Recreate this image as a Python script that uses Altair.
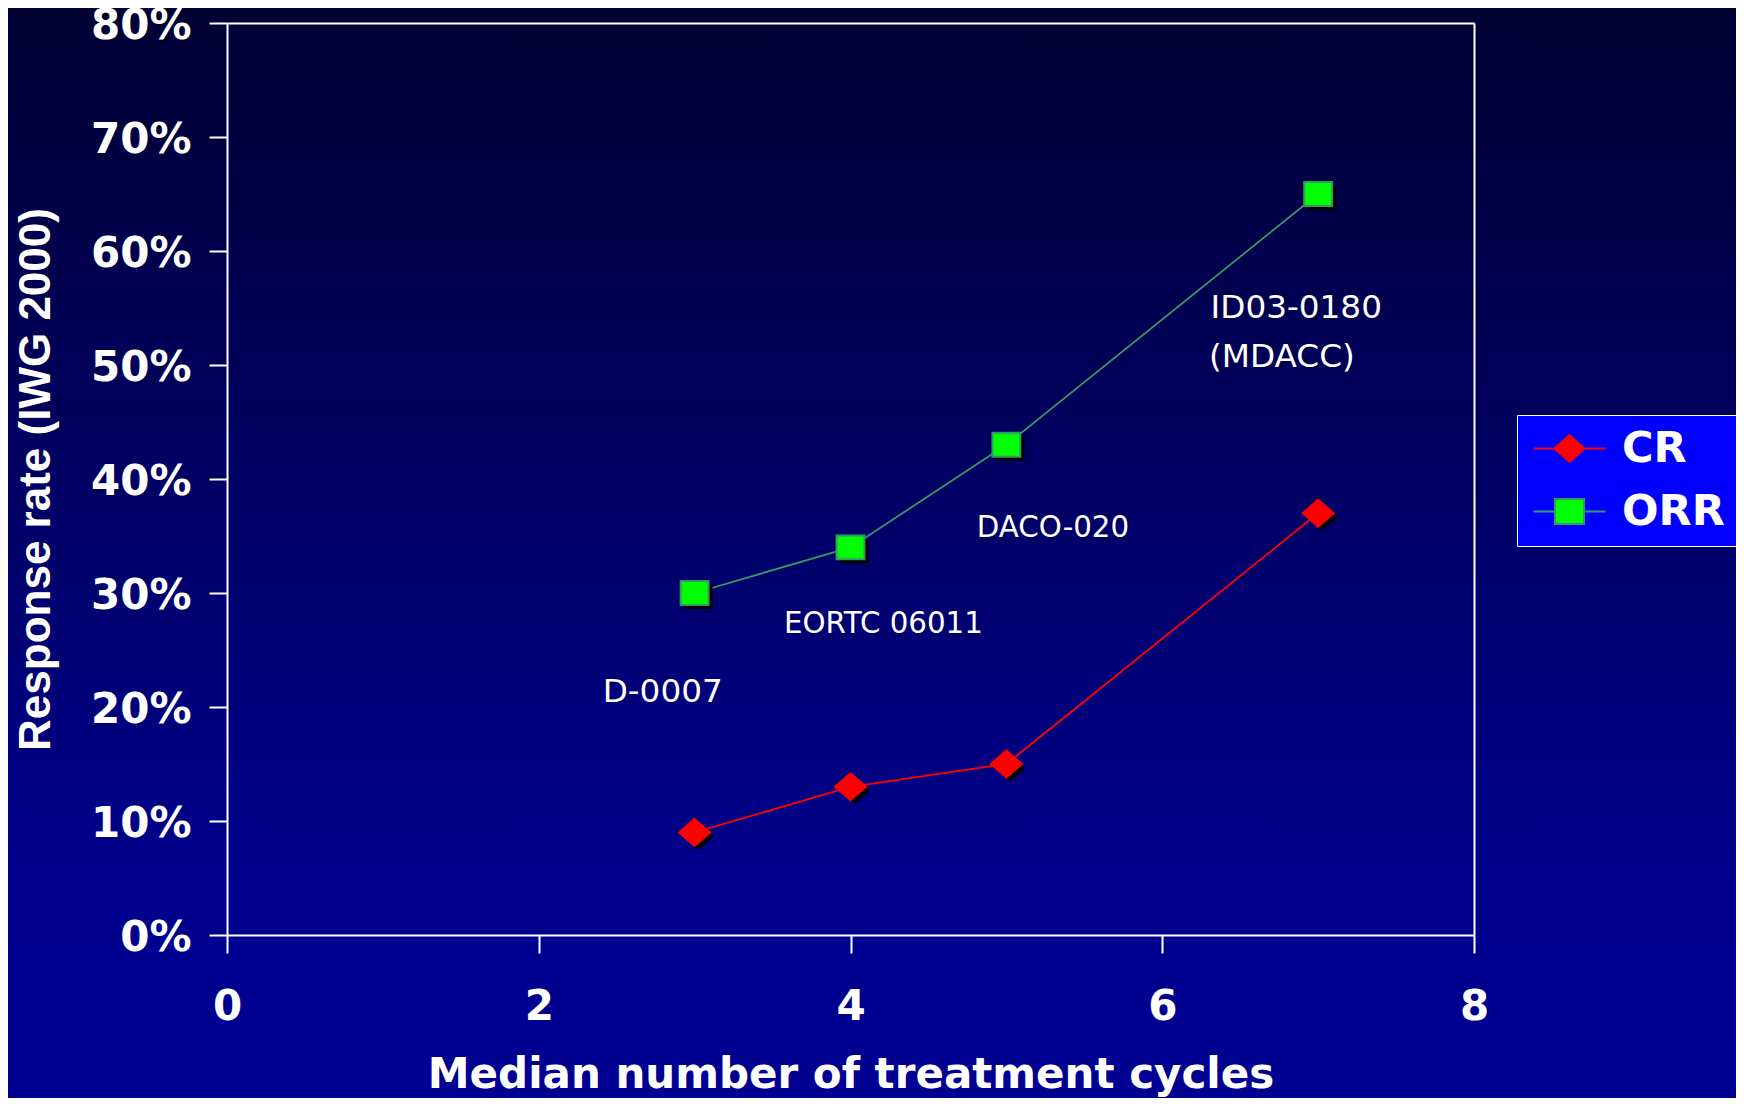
import altair as alt
import pandas as pd

# ---------------- data ----------------
cycles = [3, 4, 5, 7]
cr_rate = [0.09, 0.13, 0.15, 0.37]
orr_rate = [0.30, 0.34, 0.43, 0.65]
series_names = ["CR", "ORR"]

big_labels = ["D-0007", "ID03-0180", "(MDACC)"]
big_x = [2.41, 6.31, 6.30]
big_y = [0.213, 0.550, 0.507]
small_labels = ["EORTC 06011", "DACO-020"]
small_x = [3.573, 4.81]
small_y = [0.273, 0.357]

x_ticks = [0, 2, 4, 6, 8]
y_ticks = [0.0, 0.1, 0.2, 0.3, 0.4, 0.5, 0.6, 0.7, 0.8]

rows = [{"cycles": c, "rate": r, "series": "CR"} for c, r in zip(cycles, cr_rate)]
rows += [{"cycles": c, "rate": r, "series": "ORR"} for c, r in zip(cycles, orr_rate)]
df = pd.DataFrame(rows)
big_df = pd.DataFrame({"label": big_labels, "x": big_x, "y": big_y})
small_df = pd.DataFrame({"label": small_labels, "x": small_x, "y": small_y})
bg_df = pd.DataFrame({"k": [0]})

# ---------------- styles ----------------
W, H = 1247, 912
PAD = {"left": 219, "top": 15, "right": 262, "bottom": 163}

CR_FILL, CR_STROKE = "#FF0000", "#FF0000"
ORR_FILL, ORR_STROKE = "#00FF00", "#339966"

CR_PATH = "M0,-0.87L1,0L0,0.87L-1,0Z"
ORR_PATH = "M-0.9,-0.77L0.9,-0.77L0.9,0.77L-0.9,0.77Z"
CR_LEG = "M-2.4,0L-1,0M1,0L2.4,0M0,-0.9L1,0L0,0.9L-1,0Z"
ORR_LEG = "M-2.4,0L-0.97,0M0.97,0L2.4,0M-0.97,-0.83L0.97,-0.83L0.97,0.83L-0.97,0.83Z"

xs = alt.Scale(domain=[0, 8], nice=False, zero=True)
ys = alt.Scale(domain=[0, 0.8], nice=False, zero=True)

common_axis = dict(
    grid=False, domainColor="white", domainWidth=2, tickColor="white",
    tickWidth=2, tickSize=18, labelColor="white", labelFont="DejaVu Sans",
    labelFontWeight="bold", labelFontSize=42, titleColor="white",
    labelFlush=False, labelOverlap=False, zindex=1,
)
x_axis = alt.Axis(values=x_ticks, title="Median number of treatment cycles",
                  labelPadding=33, titleFont="DejaVu Sans", titleFontWeight="bold",
                  titleFontSize=42, titlePadding=27, **common_axis)
y_axis = alt.Axis(values=y_ticks, format=".0%", title="Response rate (IWG 2000)",
                  labelPadding=18, labelOffset=2, titleFont="Liberation Sans",
                  titleFontWeight="bold", titleFontSize=44, titlePadding=32,
                  **common_axis)
frame_x = alt.Axis(orient="top", labels=False, ticks=False, title="", grid=False,
                   domainColor="white", domainWidth=2, zindex=1)
frame_y = alt.Axis(orient="right", labels=False, ticks=False, title="", grid=False,
                   domainColor="white", domainWidth=2, zindex=1)

legend = alt.Legend(
    title="", orient="none", legendX=1290, legendY=392,
    labelFont="DejaVu Sans", labelFontWeight="bold", labelFontSize=43,
    labelColor="white", symbolSize=900, symbolStrokeWidth=2,
    symbolOffset=19, labelOffset=31, rowPadding=19, padding=12,
    fillColor="#0000FF", strokeColor="white", symbolOpacity=1,
)

grad = alt.LinearGradient(
    gradient="linear",
    stops=[alt.GradientStop(color="#000033", offset=0),
           alt.GradientStop(color="#00008C", offset=0.8),
           alt.GradientStop(color="#000092", offset=1)],
    x1=0, x2=0, y1=0, y2=1,
)

bg = alt.Chart(bg_df).mark_rect(color=grad).encode(
    x=alt.value(-PAD["left"]), x2=alt.value(W + PAD["right"]),
    y=alt.value(-PAD["top"]), y2=alt.value(H + PAD["bottom"]),
)

base = alt.Chart(df)
enc_none = dict(x=alt.X("cycles:Q", scale=xs, axis=None),
                y=alt.Y("rate:Q", scale=ys, axis=None))

def line(name, color, axes=False):
    enc = dict(x=alt.X("cycles:Q", scale=xs, axis=x_axis),
               y=alt.Y("rate:Q", scale=ys, axis=y_axis)) if axes else enc_none
    return base.transform_filter(alt.datum.series == name).mark_line(
        strokeWidth=1.8, color=color).encode(**enc)

def shadow(name, path):
    return base.transform_filter(alt.datum.series == name).mark_point(
        filled=True, size=961, shape=path, color="black", opacity=1,
        xOffset=4, yOffset=4,
    ).encode(**enc_none)

def marker(name, path, fill, stroke, axes=False):
    enc = dict(x=alt.X("cycles:Q", scale=xs, axis=frame_x),
               y=alt.Y("rate:Q", scale=ys, axis=frame_y)) if axes else enc_none
    return base.transform_filter(alt.datum.series == name).mark_point(
        filled=True, size=961, shape=path, fill=fill, stroke=stroke,
        strokeWidth=2, opacity=1,
    ).encode(**enc)

# invisible layer that only drives the legend
legend_layer = base.mark_point(filled=True, size=0, strokeWidth=2).encode(
    x=alt.X("cycles:Q", scale=xs, axis=None),
    y=alt.Y("rate:Q", scale=ys, axis=None),
    color=alt.Color("series:N", scale=alt.Scale(domain=series_names, range=[CR_FILL, ORR_FILL]), legend=legend),
    shape=alt.Shape("series:N", scale=alt.Scale(domain=series_names, range=[CR_LEG, ORR_LEG]), legend=legend),
    stroke=alt.Stroke("series:N", scale=alt.Scale(domain=series_names, range=[CR_STROKE, ORR_STROKE]), legend=legend),
)

def texts(d, fs):
    return alt.Chart(d).mark_text(align="left", baseline="middle", font="DejaVu Sans",
                                  fontSize=fs, color="white").encode(
        x=alt.X("x:Q", scale=xs, axis=None),
        y=alt.Y("y:Q", scale=ys, axis=None),
        text="label:N",
    )

chart = alt.layer(
    bg,
    line("CR", CR_STROKE, axes=True), line("ORR", ORR_STROKE),
    shadow("CR", CR_PATH), shadow("ORR", ORR_PATH),
    marker("CR", CR_PATH, CR_FILL, CR_STROKE, axes=True),
    marker("ORR", ORR_PATH, ORR_FILL, ORR_STROKE),
    legend_layer,
    texts(big_df, 32.7), texts(small_df, 29.3),
).resolve_axis(x="independent", y="independent").properties(
    width=W, height=H, padding=PAD,
    autosize=alt.AutoSizeParams(type="none"),
    background="#000066",
).configure_view(strokeWidth=0)

chart.save("out.html", embed_options={"renderer": "svg", "actions": False})
